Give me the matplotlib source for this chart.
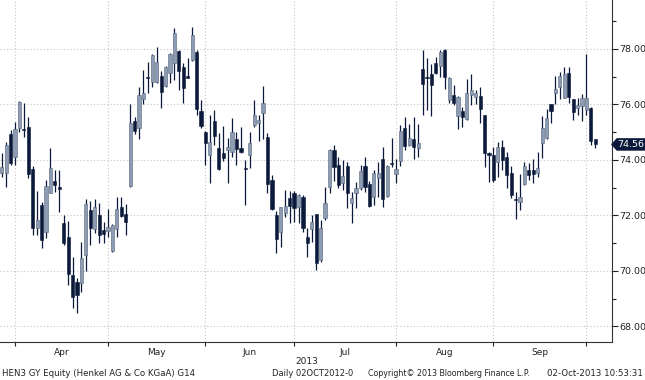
import numpy as np
import matplotlib.pyplot as plt
from matplotlib.patches import Polygon

# 日K线数据 (HEN3 GY, 2013-03-25 ~ 2013-10-02)
opens = [
    73.53, 73.53, 74.94, 74.11, 75.15, 75.12, 75.19, 73.68, 71.55, 72.38,
    71.41, 72.81, 73.24, 73.03, 71.73, 71.23, 69.86, 69.60, 69.57, 70.58,
    72.20, 71.51, 72.02, 71.48, 71.44, 70.72, 71.51, 72.31, 72.05, 73.06,
    75.41, 75.15, 76.20, 76.99, 76.81, 76.81, 77.03, 76.67, 77.14, 77.50,
    77.93, 77.35, 76.99, 77.60, 77.89, 75.77, 75.01, 74.18, 75.41, 74.43,
    74.25, 74.36, 74.29, 74.76, 74.43, 73.71, 74.18, 75.26, 75.33, 75.69,
    74.83, 73.28, 72.02, 71.41, 72.09, 72.63, 72.81, 72.31, 72.67, 71.23,
    71.51, 72.05, 70.40, 71.91, 73.03, 74.36, 73.82, 73.17, 73.78, 72.45,
    72.81, 72.99, 73.78, 73.14, 72.67, 73.35, 74.04, 72.70, 73.89, 73.50,
    73.96, 75.15, 74.54, 74.76, 74.43, 77.28, 76.99, 77.10, 77.50, 77.39,
    77.96, 76.16, 76.34, 75.59, 75.77, 75.48, 76.34, 76.27, 76.31, 75.62,
    74.25, 74.18, 73.93, 74.47, 74.11, 73.53, 72.59, 72.49, 73.14, 73.64,
    73.64, 73.53, 74.61, 74.79, 76.02, 76.41, 76.63, 76.23, 77.14, 76.20,
    75.87, 75.95, 75.80, 75.87, 74.76]
highs = [
    74.25, 74.65, 75.08, 75.37, 76.13, 76.05, 75.55, 73.78, 72.88, 72.49,
    73.28, 74.43, 73.64, 73.64, 72.02, 71.80, 70.50, 69.75, 71.05, 72.59,
    72.52, 72.59, 72.45, 71.77, 72.23, 71.69, 72.67, 72.67, 72.41, 76.02,
    75.55, 76.63, 77.24, 77.53, 77.82, 78.07, 77.21, 77.39, 77.86, 78.76,
    77.96, 77.50, 77.68, 78.79, 77.96, 76.16, 75.05, 75.62, 75.80, 74.97,
    75.23, 74.79, 75.51, 75.01, 75.19, 74.00, 75.01, 76.16, 75.62, 76.67,
    74.97, 73.46, 72.16, 72.31, 72.92, 72.88, 72.88, 72.77, 72.74, 71.55,
    72.02, 72.05, 71.84, 73.03, 74.40, 74.54, 74.11, 74.00, 73.93, 72.85,
    73.21, 73.82, 74.11, 73.24, 73.64, 73.93, 74.47, 73.82, 74.79, 74.04,
    75.26, 75.55, 75.30, 75.55, 75.30, 77.96, 77.68, 77.46, 77.71, 77.96,
    78.00, 76.99, 76.70, 76.31, 75.91, 76.92, 77.10, 76.52, 76.63, 75.62,
    74.29, 74.47, 74.65, 74.72, 74.29, 73.78, 72.85, 73.50, 73.93, 73.89,
    74.04, 74.29, 75.59, 75.84, 76.02, 77.03, 77.17, 77.35, 77.35, 76.20,
    76.23, 76.38, 77.82, 75.91, 74.76]
lows = [
    73.39, 73.03, 73.82, 73.82, 75.01, 74.83, 73.35, 71.30, 71.30, 70.83,
    71.19, 72.81, 72.85, 72.13, 70.94, 69.50, 68.67, 68.49, 69.24, 70.00,
    70.94, 71.37, 71.01, 71.01, 71.23, 70.68, 71.23, 71.95, 71.30, 73.03,
    74.94, 74.76, 76.02, 76.41, 76.63, 76.77, 75.87, 76.63, 76.77, 76.88,
    76.52, 76.05, 76.95, 77.57, 75.62, 75.15, 73.82, 73.17, 74.54, 73.64,
    73.96, 73.17, 74.11, 73.82, 74.25, 72.38, 73.71, 75.19, 74.68, 74.76,
    72.81, 72.20, 70.65, 70.86, 71.95, 71.73, 71.77, 71.73, 71.41, 70.50,
    71.05, 70.04, 70.32, 71.84, 72.81, 73.24, 72.99, 72.92, 72.27, 71.73,
    72.27, 72.92, 72.85, 72.31, 72.38, 72.67, 72.31, 72.67, 73.75, 73.17,
    73.78, 74.36, 74.50, 74.04, 74.11, 75.62, 75.80, 75.59, 77.10, 76.99,
    76.56, 76.05, 75.98, 75.12, 75.19, 75.44, 75.98, 76.02, 75.33, 73.75,
    73.21, 73.21, 73.39, 73.64, 72.99, 72.63, 71.87, 72.20, 73.10, 73.28,
    73.17, 73.39, 74.07, 74.76, 75.33, 76.02, 76.20, 76.23, 76.05, 75.44,
    75.62, 75.41, 75.62, 74.54, 74.43]
closes = [
    73.75, 74.54, 73.89, 75.12, 76.09, 75.08, 73.50, 71.55, 71.84, 71.12,
    73.06, 73.71, 73.10, 72.95, 71.01, 69.89, 69.06, 69.14, 70.47, 72.41,
    71.55, 72.31, 71.30, 71.33, 71.59, 71.66, 72.23, 71.98, 71.77, 75.33,
    75.05, 76.34, 76.41, 76.95, 77.78, 77.53, 76.45, 77.35, 77.82, 78.58,
    77.21, 76.59, 76.97, 78.50, 75.84, 75.23, 74.61, 74.65, 74.86, 73.68,
    74.07, 74.47, 75.01, 74.40, 74.29, 73.68, 74.61, 75.62, 75.44, 76.05,
    73.14, 72.23, 71.15, 72.31, 72.34, 72.34, 72.27, 72.74, 71.55, 71.01,
    71.77, 70.29, 71.55, 72.45, 74.36, 73.75, 73.10, 73.42, 72.81, 72.63,
    72.99, 73.60, 73.03, 72.34, 73.53, 73.53, 72.59, 73.78, 73.86, 73.68,
    75.05, 74.50, 74.79, 74.47, 74.61, 76.74, 76.95, 76.70, 77.14, 77.89,
    76.99, 76.95, 76.05, 76.27, 75.55, 76.41, 76.52, 76.41, 75.84, 74.25,
    74.18, 73.28, 74.47, 74.00, 73.46, 72.74, 72.56, 72.67, 73.78, 73.46,
    73.50, 73.71, 75.15, 75.51, 75.77, 76.56, 77.03, 77.10, 76.27, 75.73,
    75.98, 76.23, 76.23, 74.70, 74.56]

# 每月交易日数 (Mar 末几天 ... Oct 前两天)
month_days = [4, 21, 22, 20, 23, 22, 21, 2]
month_names = ['Mar', 'Apr', 'May', 'Jun', 'Jul', 'Aug', 'Sep', 'Oct']
year_label = '2013'
last_price = closes[-1]

o = np.array(opens)
h = np.array(highs)
l = np.array(lows)
c = np.array(closes)
x = np.arange(len(c))

dark = '#0b1a3b'
light = '#8d9cb2'
grid_col = '#c4c4c4'
text_col = '#222222'

fig = plt.figure(figsize=(6.45, 3.8), dpi=100)
ax = fig.add_axes([0, 38 / 380, 612 / 645, 342 / 380])

# 网格
month_ends = np.cumsum(month_days) - 1
for v in range(68, 79, 2):
    ax.axhline(v, color=grid_col, lw=0.8, ls=(0, (1, 2)), zorder=0)
for m in month_ends[:-1]:
    ax.axvline(m, color=grid_col, lw=0.8, ls=(0, (1, 2)), zorder=0)

# K线
up = c >= o
ax.vlines(x, l, h, color=dark, lw=0.9, zorder=2)
body = np.maximum(np.abs(c - o), 0.04)
ax.bar(x[up], body[up], bottom=np.minimum(o, c)[up], width=0.72,
       color=light, edgecolor='#56677f', linewidth=0.4, zorder=3)
ax.bar(x[~up], body[~up], bottom=np.minimum(o, c)[~up], width=0.72,
       color=dark, edgecolor=dark, linewidth=0.4, zorder=3)

ax.set_xlim(-0.384, 137.77)
ax.set_ylim(67.44, 79.766)

# 坐标轴
for s in ['left', 'top']:
    ax.spines[s].set_visible(False)
ax.spines['right'].set_color('#333333')
ax.spines['bottom'].set_color('#333333')
ax.spines['right'].set_linewidth(0.8)
ax.spines['bottom'].set_linewidth(0.8)

ax.yaxis.tick_right()
ax.set_yticks(np.arange(68, 79, 2))
ax.set_yticklabels(['%.2f' % v for v in np.arange(68, 79, 2)])
ax.set_yticks(np.arange(69, 80, 2), minor=True)
ax.tick_params(axis='y', which='major', length=4, width=0.8, pad=1,
               labelsize=6.8, colors=text_col)
ax.tick_params(axis='y', which='minor', length=3, width=0.8, colors=text_col)

centers = [(month_ends[i - 1] + month_ends[i]) / 2 for i in range(1, len(month_ends) - 1)]
ax.set_xticks(month_ends[:-1])
ax.set_xticklabels([])
ax.set_xticks(centers, minor=True)
ax.set_xticklabels(month_names[1:-1], minor=True)
ax.tick_params(axis='x', which='major', length=3, width=0.8, colors=text_col)
ax.tick_params(axis='x', which='minor', length=0, pad=4, labelsize=6.5,
               colors=text_col)

# 最新价标签
py = 0.2
tag = Polygon([(1.0, last_price), (1 + 5 / 612, last_price + py),
               (1 + 33 / 612, last_price + py), (1 + 33 / 612, last_price - py),
               (1 + 5 / 612, last_price - py)], closed=True,
              transform=ax.get_yaxis_transform(), facecolor=dark,
              edgecolor=dark, clip_on=False, zorder=5)
ax.add_patch(tag)
ax.text(1 + 19 / 612, last_price, '%.2f' % last_price,
        transform=ax.get_yaxis_transform(), ha='center', va='center',
        color='white', fontsize=6.8, clip_on=False, zorder=6)

# 底部文字
fig.text(307 / 645, 1 - 362 / 380, year_label, ha='center', va='center',
         fontsize=6.5, color=text_col)
fy = 1 - 373 / 380
fig.text(2 / 645, fy, 'HEN3 GY Equity (Henkel AG & Co KGaA) G14',
         ha='left', va='center', fontsize=6.2, color=text_col)
fig.text(272 / 645, fy, 'Daily 02OCT2012-0', ha='left', va='center',
         fontsize=6.0, color=text_col)
fig.text(368 / 645, fy, 'Copyright\u00a9 2013 Bloomberg Finance L.P.',
         ha='left', va='center', fontsize=5.7, color=text_col)
fig.text(643 / 645, fy, '02-Oct-2013 10:53:31', ha='right', va='center',
         fontsize=6.2, color=text_col)

plt.savefig('out.png', dpi=100)
